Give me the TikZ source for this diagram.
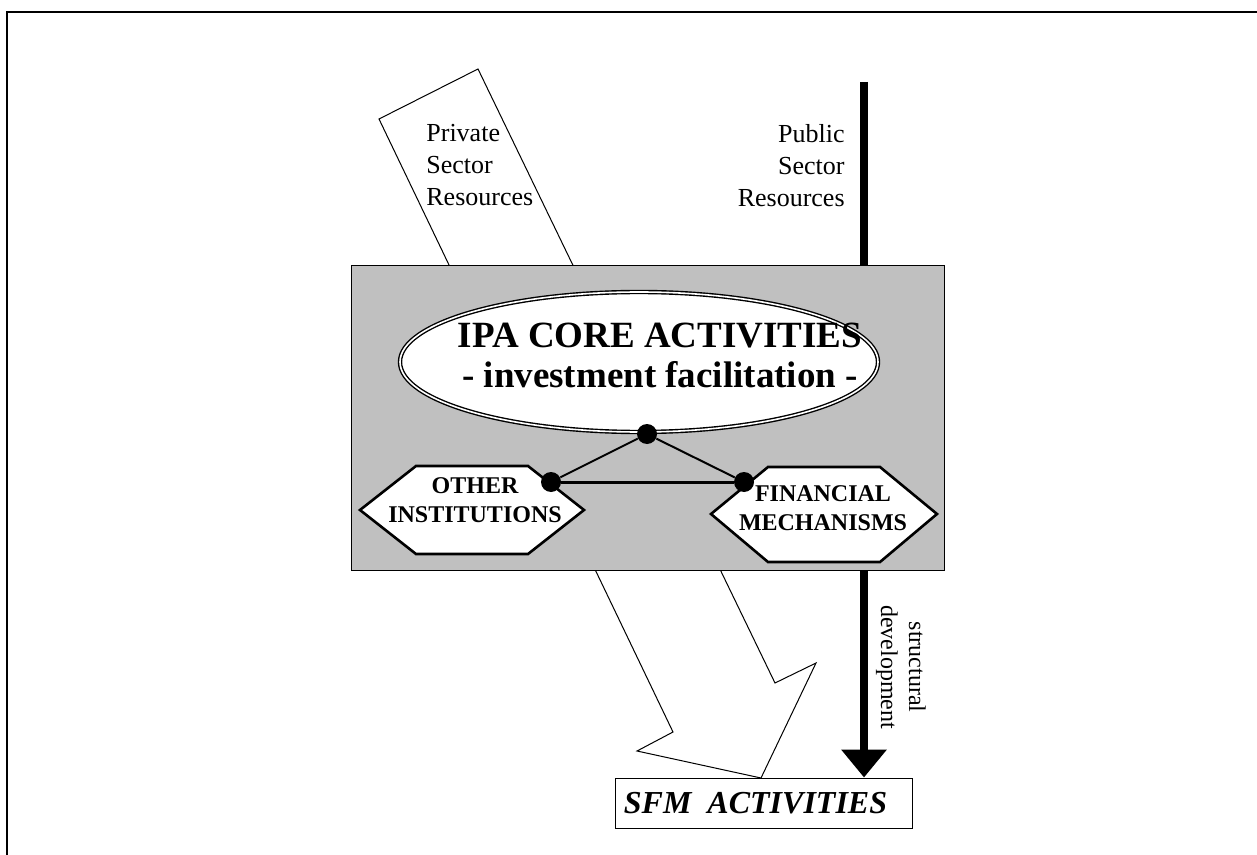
\documentclass[tikz,border=0pt]{standalone}
\usepackage{fontspec}
\setmainfont{Liberation Serif}
\usetikzlibrary{shapes.geometric,arrows.meta}
\definecolor{boxgray}{RGB}{192,192,192}

\begin{document}
\begin{tikzpicture}[x=0.5pt, y=-0.5pt,
			frame/.style={line width=1pt},
			bigarrow/.style={draw, fill=white, line width=0.5pt, line join=miter},
			pubarrow/.style={line width=4pt, -{Triangle[width=22pt,length=14pt]}},
			graybox/.style={draw, fill=boxgray, line width=0.5pt, minimum width=296.5pt, minimum height=152pt, inner sep=0pt},
			coreshape/.style={ellipse, draw, fill=white, line width=0.7pt, double, double distance=0.8pt, minimum width=239pt, minimum height=70pt, inner sep=0pt},
			coretext/.style={font=\bfseries\fontsize{18.5}{20}\selectfont, align=center, inner sep=0pt},
			hexline/.style={draw, fill=white, line width=1.3pt, line join=miter},
			hextext/.style={font=\bfseries\fontsize{12}{14.5}\selectfont, align=center, inner sep=0pt},
			dot/.style={circle, fill=black, minimum size=10pt, inner sep=0pt},
			link/.style={line width=1pt},
			restext/.style={font=\fontsize{13}{16}\selectfont, inner sep=0pt},
			sfmbox/.style={draw, line width=0.5pt, minimum width=148.5pt, minimum height=25pt, font=\bfseries\itshape\fontsize{16}{18}\selectfont}]
	\useasboundingbox (0,0) rectangle (1257,855);
	\draw[frame] (7,855) -- (7,12) -- (1257,12);
	% resources flowing in
	\draw[bigarrow] (379,119) -- (478,69) -- (775,683) -- (816,663) -- (761,778) -- (637,751) -- (673,732) -- cycle;
	\node[sfmbox] (sfm) at (763.5,803) {SFM\ \ ACTIVITIES\hspace*{8pt}};
	\coordinate (pubtop) at (864,82);
	\draw[pubarrow] (pubtop) -- (pubtop |- sfm.north);
	% IPA box
	\node[graybox] (ipa) at (647.5,418) {};
	\node[coreshape] (core) at (639,362) {};
	\node[coretext] (corelbl) at (660,355) {IPA CORE ACTIVITIES\\- investment facilitation -};
	\draw[hexline] (360,510) -- (416,466) -- (528,466) -- (584,510) -- (528,554) -- (416,554) -- cycle;
	\node[hextext] (other) at (475,500) {OTHER\\INSTITUTIONS};
	\draw[hexline] (711,514) -- (768,467) -- (880,467) -- (937,514) -- (880,562) -- (768,562) -- cycle;
	\node[hextext] (finance) at (823,508) {FINANCIAL\\MECHANISMS};
	\node[dot] (dtop) at (647,434) {};
	\node[dot] (dleft) at (551,482) {};
	\node[dot] (dright) at (744,482) {};
	\draw[link] (dtop) -- (dleft);
	\draw[link] (dtop) -- (dright);
	\draw[link, line width=1.5pt] (dleft) -- (dright);
	% labels
	\node[restext, align=left, anchor=north west] (private) at (426,124) {Private\\Sector\\Resources};
	\node[restext, align=right, anchor=north east] (public) at (845,124) {Public\\Sector\\Resources};
	\node[restext, font=\fontsize{12}{14}\selectfont, align=center, rotate=-90] (devel) at (901,667) {structural\\development};
\end{tikzpicture}
\end{document}
